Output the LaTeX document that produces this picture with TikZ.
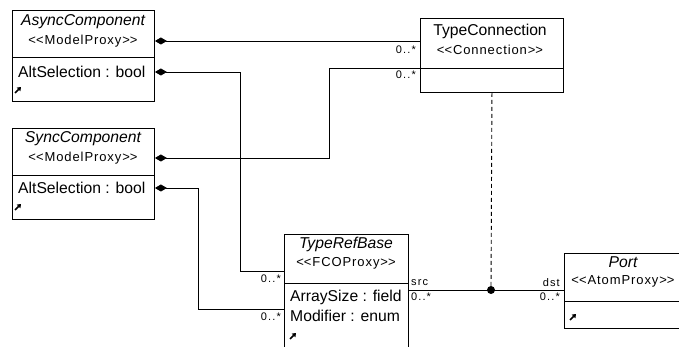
\documentclass[tikz,border=0pt]{standalone}
\usepackage{fontspec}
\setmainfont{Liberation Sans}
\newfontfamily\stereofont{Liberation Sans}[LetterSpace=7]
\newfontfamily\multfont{Liberation Sans}[LetterSpace=10]
\usetikzlibrary{arrows.meta}
\newcommand{\stereotype}[1]{<\kern0pt<#1>\kern0pt>}
\tikzset{
  classbox/.style={draw, line width=0.9pt, anchor=north west, inner sep=0pt, rectangle},
  divider/.style={line width=0.9pt},
  title/.style={font=\fontsize{15.7}{17}\selectfont\itshape, inner sep=0pt},
  plain/.style={font=\fontsize{15.7}{17}\selectfont, inner sep=0pt},
  stereo/.style={font=\stereofont\fontsize{13}{15}\selectfont, inner sep=0pt},
  attr/.style={font=\fontsize{15.7}{17}\selectfont, inner sep=0pt, anchor=west},
  mult/.style={font=\multfont\fontsize{11}{12}\selectfont, inner sep=0pt},
  comp/.style={line width=0.9pt, {Diamond[length=12pt,width=7pt]}-},
  link/.style={line width=0.9pt},
  icon/.style={line width=1.7pt, -{Triangle[length=3.5pt,width=5pt]}},
}
\begin{document}
\begin{tikzpicture}[x=1pt,y=-1pt]
\useasboundingbox (0,0) rectangle (679,347);
\begin{scope}
\clip (0,0) rectangle (679,347);

% ---- AsyncComponent ----
\node[classbox, minimum width=142pt, minimum height=91pt] (async) at (12,10) {};
\draw[divider] (12,57) -- (154,57);
\node[title] (asyncT) at (83,22) {AsyncComponent};
\node[stereo] (asyncS) at (83,41) {\stereotype{ModelProxy}};
\node[attr] (asyncA) at (18,72) {AltSelection : bool};
\draw[icon] (15,93) -- (21,87);

% ---- SyncComponent ----
\node[classbox, minimum width=142pt, minimum height=91pt] (sync) at (12,128) {};
\draw[divider] (12,175) -- (154,175);
\node[title] (syncT) at (83,139) {SyncComponent};
\node[stereo] (syncS) at (83,158) {\stereotype{ModelProxy}};
\node[attr] (syncA) at (18,188) {AltSelection : bool};
\draw[icon] (15,210) -- (21,204);

% ---- TypeConnection ----
\node[classbox, minimum width=143pt, minimum height=74pt] (tconn) at (420,18) {};
\draw[divider] (420,68) -- (563,68);
\node[plain] (tconnT) at (490,31) {TypeConnection};
\node[stereo] (tconnS) at (490,50) {\stereotype{Connection}};

% ---- TypeRefBase ----
\node[classbox, minimum width=124pt, minimum height=120pt] (trb) at (284,234) {};
\draw[divider] (284,283) -- (408,283);
\node[title] (trbT) at (346,244) {TypeRefBase};
\node[stereo] (trbS) at (346,263) {\stereotype{FCOProxy}};
\node[attr] (trbA1) at (290,297) {ArraySize : field};
\node[attr] (trbA2) at (290,316) {Modifier : enum};
\draw[icon] (290,339) -- (296,333);

% ---- Port ----
\node[classbox, minimum width=120pt, minimum height=75pt] (port) at (564,253) {};
\draw[divider] (564,301) -- (684,301);
\node[title] (portT) at (623,262) {Port};
\node[stereo] (portS) at (623,281) {\stereotype{AtomProxy}};
\draw[icon] (570,320) -- (576,314);

% ---- connectors ----
\coordinate (k2) at (240,271);
\coordinate (k3) at (329,68);
\coordinate (k4) at (198,309);
\coordinate (j) at (491,290);

\draw[comp] (async.east |- asyncS) -- (tconn.west |- asyncS);
\draw[comp] (async.east |- asyncA) -| (k2) -- (trb.west |- k2);
\draw[comp] (sync.east |- syncS) -| (k3) -- (tconn.west |- k3);
\draw[comp] (sync.east |- syncA) -| (k4) -- (trb.west |- k4);

\node[circle, fill, inner sep=0pt, minimum size=8pt] (dot) at (j) {};
\draw[link] (trb.east |- dot) -- (port.west |- dot);
\draw[link, dash pattern=on 4pt off 3pt] (tconn.south) -- (dot);

% ---- multiplicities and roles ----
\node[mult, anchor=east] (m1) at (416,50) {0..*};
\node[mult, anchor=east] (m2) at (416,75) {0..*};
\node[mult, anchor=east] (m3) at (281,279) {0..*};
\node[mult, anchor=east] (m4) at (281,317) {0..*};
\node[mult, anchor=west] (src) at (411,283) {src};
\node[mult, anchor=west] (m5) at (411,297) {0..*};
\node[mult, anchor=east] (dst) at (560,283) {dst};
\node[mult, anchor=east] (m6) at (560,297) {0..*};
\end{scope}
\end{tikzpicture}
\end{document}
